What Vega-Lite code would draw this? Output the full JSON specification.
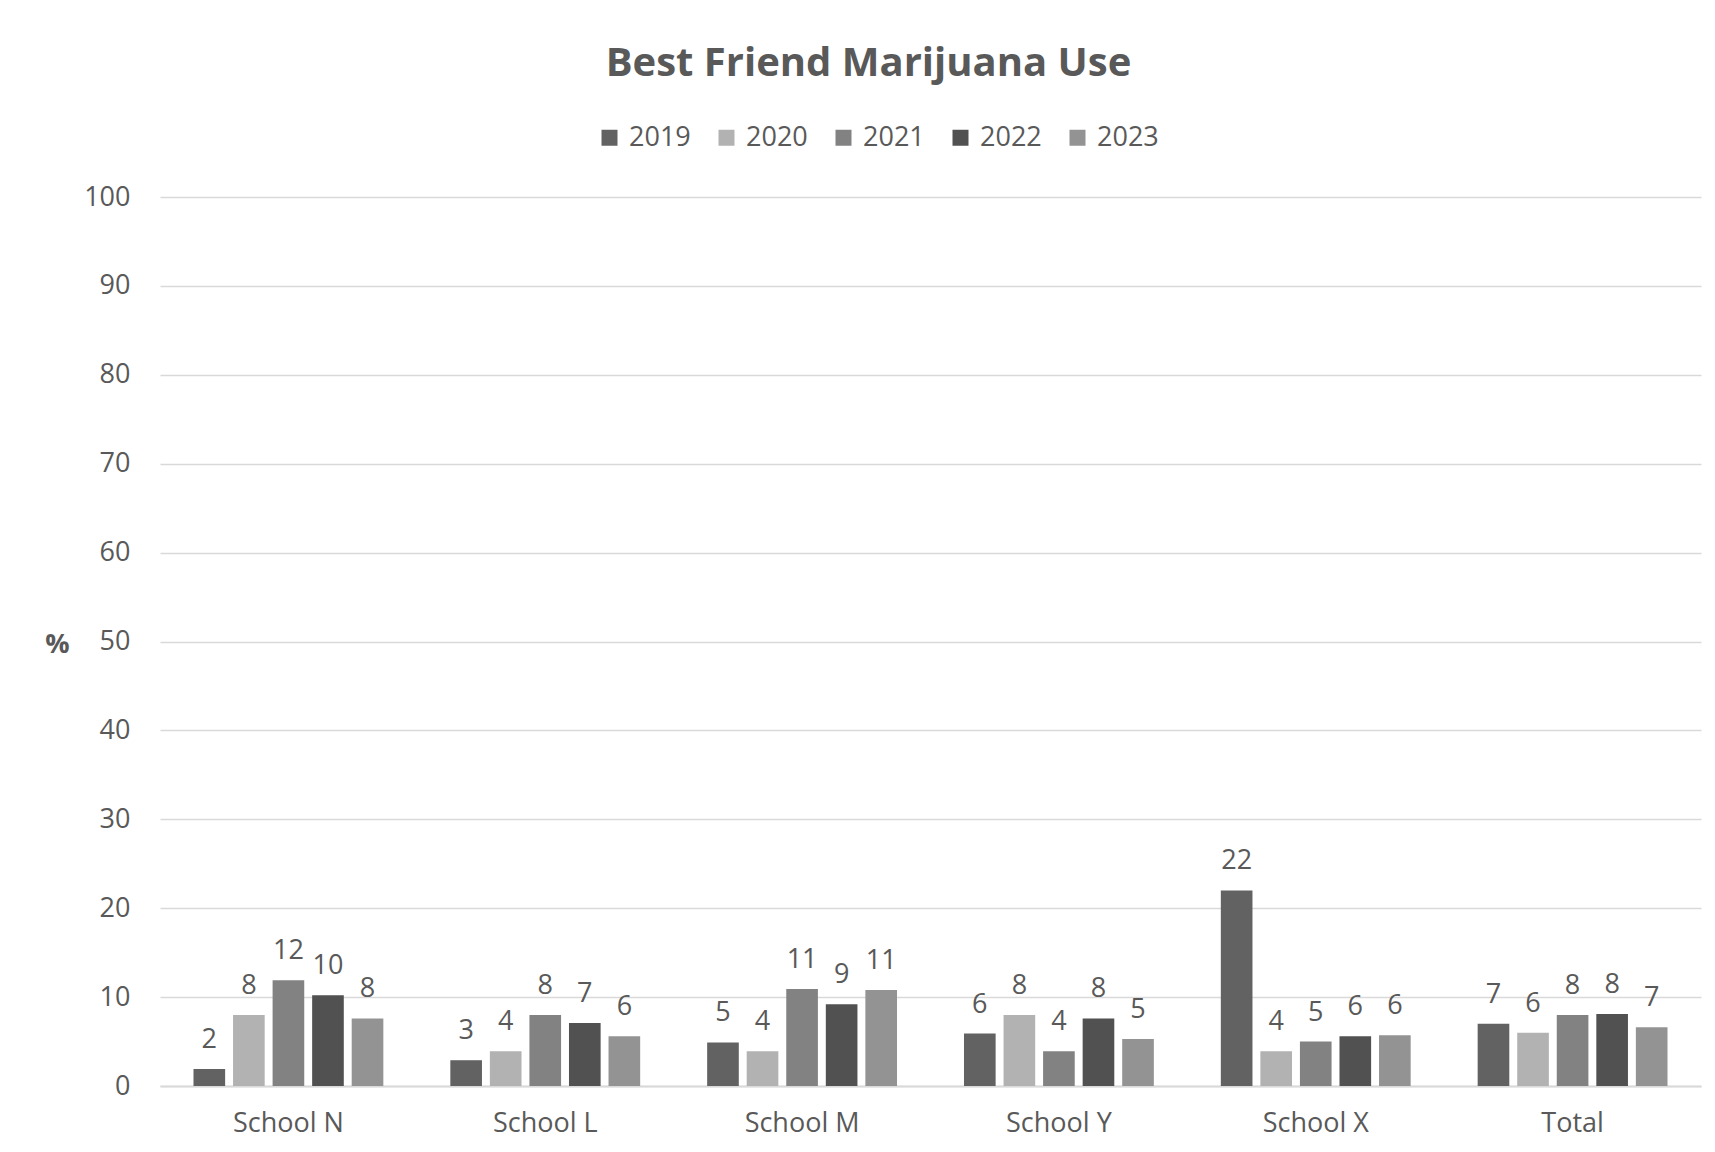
{
  "$schema": "https://vega.github.io/schema/vega-lite/v6.json",
  "width": 1541,
  "height": 889,
  "autosize": {"type": "none"},
  "padding": {"left": 160, "top": 197, "right": 14, "bottom": 66},
  "background": "white",
  "title": {
    "text": "Best Friend Marijuana Use",
    "font": "Open Sans",
    "fontSize": 40,
    "fontWeight": "bold",
    "color": "#595959",
    "anchor": "middle",
    "frame": "group",
    "dx": -62,
    "offset": 40
  },
  "data": {
    "values": [
      {"school": "School N", "year": "2019", "pct": 1.9},
      {"school": "School N", "year": "2020", "pct": 8.0},
      {"school": "School N", "year": "2021", "pct": 11.9},
      {"school": "School N", "year": "2022", "pct": 10.2},
      {"school": "School N", "year": "2023", "pct": 7.6},
      {"school": "School L", "year": "2019", "pct": 2.9},
      {"school": "School L", "year": "2020", "pct": 3.9},
      {"school": "School L", "year": "2021", "pct": 8.0},
      {"school": "School L", "year": "2022", "pct": 7.1},
      {"school": "School L", "year": "2023", "pct": 5.6},
      {"school": "School M", "year": "2019", "pct": 4.9},
      {"school": "School M", "year": "2020", "pct": 3.9},
      {"school": "School M", "year": "2021", "pct": 10.9},
      {"school": "School M", "year": "2022", "pct": 9.2},
      {"school": "School M", "year": "2023", "pct": 10.8},
      {"school": "School Y", "year": "2019", "pct": 5.9},
      {"school": "School Y", "year": "2020", "pct": 8.0},
      {"school": "School Y", "year": "2021", "pct": 3.9},
      {"school": "School Y", "year": "2022", "pct": 7.6},
      {"school": "School Y", "year": "2023", "pct": 5.3},
      {"school": "School X", "year": "2019", "pct": 22.0},
      {"school": "School X", "year": "2020", "pct": 3.9},
      {"school": "School X", "year": "2021", "pct": 5.0},
      {"school": "School X", "year": "2022", "pct": 5.6},
      {"school": "School X", "year": "2023", "pct": 5.7},
      {"school": "Total", "year": "2019", "pct": 7.0},
      {"school": "Total", "year": "2020", "pct": 6.0},
      {"school": "Total", "year": "2021", "pct": 8.0},
      {"school": "Total", "year": "2022", "pct": 8.1},
      {"school": "Total", "year": "2023", "pct": 6.6}
    ]
  },
  "encoding": {
    "x": {
      "field": "school",
      "type": "nominal",
      "sort": ["School N", "School L", "School M", "School Y", "School X", "Total"],
      "scale": {"paddingInner": 0.23, "paddingOuter": 0.115},
      "axis": {
        "title": null,
        "labelAngle": 0,
        "labelFont": "Open Sans",
        "labelFontSize": 27,
        "labelColor": "#595959",
        "labelPadding": 24,
        "ticks": false,
        "domainColor": "#d9d9d9",
        "domainWidth": 2
      }
    },
    "xOffset": {
      "field": "year",
      "type": "nominal",
      "scale": {"paddingInner": 0.2, "paddingOuter": 0.1}
    },
    "y": {
      "field": "pct",
      "type": "quantitative",
      "scale": {"domain": [0, 100]},
      "axis": {
        "values": [0, 10, 20, 30, 40, 50, 60, 70, 80, 90, 100],
        "title": "%",
        "titleAngle": 0,
        "titleFont": "Open Sans",
        "titleFontSize": 27,
        "titleFontWeight": "bold",
        "titleColor": "#595959",
        "titleX": -103,
        "titleY": 461,
        "titleAlign": "center",
        "labelFont": "Open Sans",
        "labelFontSize": 27,
        "labelColor": "#595959",
        "labelPadding": 30,
        "ticks": false,
        "domain": false,
        "grid": true,
        "gridColor": "#d9d9d9",
        "gridWidth": 1.5
      }
    }
  },
  "layer": [
    {
      "mark": {"type": "bar"},
      "encoding": {
        "color": {
          "field": "year",
          "type": "nominal",
          "scale": {
            "domain": ["2019", "2020", "2021", "2022", "2023"],
            "range": ["#626262", "#b2b2b2", "#828282", "#515151", "#939393"]
          },
          "legend": {
            "title": null,
            "orient": "none",
            "direction": "horizontal",
            "legendX": 436,
            "legendY": -73,
            "symbolType": "square",
            "symbolSize": 256,
            "symbolStrokeWidth": 0,
            "labelFont": "Open Sans",
            "labelFontSize": 27,
            "labelColor": "#595959",
            "labelOffset": 6,
            "columnPadding": 22
          }
        }
      }
    },
    {
      "mark": {
        "type": "text",
        "baseline": "alphabetic",
        "dy": -21,
        "font": "Open Sans",
        "fontSize": 27,
        "color": "#595959"
      },
      "encoding": {
        "text": {"field": "pct", "type": "quantitative", "format": ".0f"}
      }
    }
  ],
  "config": {
    "view": {"stroke": null}
  }
}
